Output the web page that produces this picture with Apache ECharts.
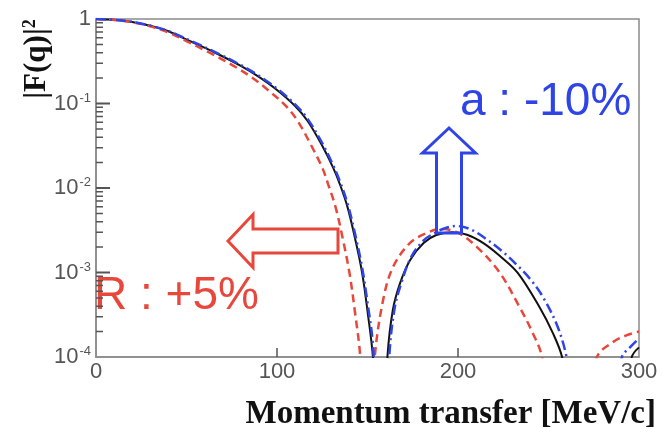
<!DOCTYPE html>
<html>
<head>
<meta charset="utf-8">
<script src="https://cdn.jsdelivr.net/npm/echarts@6/dist/echarts.min.js"></script>
<style>html,body{margin:0;padding:0;background:#fff}#c{width:663px;height:428px}</style>
</head>
<body>
<div id="c"></div>
<script>
// ---- data ----
var xTicks = [0, 100, 200, 300];
var yTicks = [1, 0.1, 0.01, 0.001, 0.0001];

// baseline (black solid)
var qBlack = [0, 10, 20, 30, 40, 52, 65, 80, 90, 100, 110, 117, 125, 131, 135, 139, 143, 147, 150, 153, 155.5, 157, 159, 161, 164, 168, 173.5, 181, 188, 197, 205, 214, 223, 233, 245, 252.5, 257.5, 262, 277, 292, 296, 300];
var fBlack = [1, 0.977, 0.923, 0.832, 0.716, 0.547, 0.407, 0.279, 0.2065, 0.1445, 0.0933, 0.0617, 0.0316, 0.0174, 0.0107, 0.0059, 0.0026, 0.001, 0.00035, 0.0001, 0.00001, 0.0000001, 0.00001, 0.0001, 0.00036, 0.00075, 0.0014, 0.00223, 0.00278, 0.0030, 0.0028, 0.00223, 0.00158, 0.00099, 0.00039, 0.00019, 0.0001, 0.000028, 0.0000001, 0.000028, 0.0001, 0.00013];

// R : +5% (red dashed)
var qRed = [0, 10, 20, 30, 40, 50, 62, 76, 86, 95, 105, 111.5, 119, 125, 128.5, 132.4, 136.2, 140, 143, 146, 148, 149.5, 151.5, 154, 158.6, 164, 173.5, 183, 190, 199.4, 210.5, 223, 234, 241.4, 246.4, 250, 262, 272, 276.8, 285.6, 293, 300];
var fRed = [1, 0.975, 0.916, 0.817, 0.692, 0.547, 0.407, 0.279, 0.204, 0.1445, 0.0933, 0.0617, 0.0316, 0.0174, 0.0107, 0.0059, 0.0026, 0.001, 0.00035, 0.0001, 0.00001, 0.0000001, 0.00001, 0.0001, 0.00047, 0.00115, 0.00224, 0.00295, 0.00327, 0.0030, 0.002, 0.001, 0.00039, 0.00019, 0.0001, 0.00002, 0.0000001, 0.00002, 0.0001, 0.00015, 0.00018, 0.0002];

// a : -10% (blue dash-dot)
var qBlue = [0, 10, 20, 30, 40, 52, 65, 80, 90, 100, 110, 117, 125, 131, 135, 139, 143, 147, 150, 153, 155.5, 158, 160.5, 162, 165, 169, 174, 181, 188, 192, 199, 207, 216, 225, 233, 240, 247, 255, 260, 266, 276, 287, 290.6, 295, 300];
var fBlue = [1, 0.977, 0.925, 0.836, 0.721, 0.555, 0.415, 0.285, 0.213, 0.15, 0.0977, 0.0653, 0.0339, 0.0186, 0.0116, 0.0065, 0.00295, 0.00115, 0.00044, 0.00014, 0.00001, 0.0000001, 0.00001, 0.0001, 0.00038, 0.00079, 0.00151, 0.0024, 0.003, 0.0033, 0.00355, 0.00324, 0.00245, 0.00174, 0.0012, 0.00083, 0.00051, 0.00023, 0.0001, 0.00002, 0.0000001, 0.00002, 0.0001, 0.00013, 0.000166];

var minorTickMantissas = [2, 3, 4, 5, 6, 7, 8, 9];
var minorTickDecades = [0.0001, 0.001, 0.01, 0.1];

// ---- build ----
var GRID = { left: 96, top: 19, right: 24, bottom: 71 };
var PW = 663 - GRID.left - GRID.right, PH = 428 - GRID.top - GRID.bottom;
var X_MIN = xTicks[0], X_MAX = xTicks[xTicks.length - 1];
var Y_MIN = yTicks[yTicks.length - 1], Y_MAX = yTicks[0];
var qPerPx = (X_MAX - X_MIN) / PW;
var decPerPx = (Math.log(Y_MAX / Y_MIN) / Math.LN10) / PH;

function zip(a, b) { return a.map(function (v, i) { return [v, b[i]]; }); }
function hTicks(vals, lenPx) {
  var out = [];
  vals.forEach(function (v) { out.push([X_MIN, v], [X_MIN + lenPx * qPerPx, v], ['-', '-']); });
  return out;
}
function vTicks(vals, lenPx) {
  var out = [];
  vals.forEach(function (v) { out.push([v, Y_MIN], [v, Y_MIN * Math.pow(10, lenPx * decPerPx)], ['-', '-']); });
  return out;
}
var minorVals = [];
minorTickDecades.forEach(function (d) { minorTickMantissas.forEach(function (m) { minorVals.push(m * d); }); });

var SANS = '"Liberation Sans", Arial, sans-serif';
var SERIF = '"Liberation Serif", "Times New Roman", serif';
var RED = '#e8473b', BLUE = '#2f44e6', AX = '#8a8a8a', TK = '#555555';

function tickSeries(data, w) {
  return { type: 'line', data: data, showSymbol: false, connectNulls: false, clip: false, silent: true, z: 8,
    lineStyle: { color: TK, width: w } };
}

var chart = echarts.init(document.getElementById('c'), null, { renderer: 'canvas' });
chart.setOption({
  animation: false,
  backgroundColor: '#fff',
  grid: { left: GRID.left, top: GRID.top, right: GRID.right, bottom: GRID.bottom, show: true, borderColor: AX, borderWidth: 1.5, backgroundColor: 'transparent' },
  xAxis: {
    type: 'value', min: X_MIN, max: X_MAX, interval: 100,
    axisLine: { show: true, lineStyle: { color: AX, width: 1.5 } },
    axisTick: { show: false },
    splitLine: { show: false },
    axisLabel: { color: '#555', fontSize: 22, fontFamily: SANS, margin: 4 }
  },
  yAxis: {
    type: 'log', logBase: 10, min: Y_MIN, max: Y_MAX, splitNumber: 4,
    axisLine: { show: true, lineStyle: { color: AX, width: 1.5 } },
    axisTick: { show: false },
    splitLine: { show: false },
    axisLabel: {
      margin: 5,
      formatter: function (v) {
        var e = Math.round(Math.log(v) / Math.LN10);
        if (e === 0) return '{b|1}';
        return '{b|10}{s|' + e + '}';
      },
      rich: {
        b: { fontSize: 22, color: '#555', fontFamily: SANS, lineHeight: 24 },
        s: { fontSize: 13, color: '#555', fontFamily: SANS, verticalAlign: 'top', lineHeight: 14, padding: [0, 0, 10, 1] }
      }
    }
  },
  series: [
    tickSeries(hTicks(minorVals, 7), 1.5),
    tickSeries(hTicks(yTicks.slice(1, 4), 14), 1.8),
    tickSeries(vTicks(xTicks.slice(1, 3), 9), 1.5),
    { type: 'line', data: zip(qBlack, fBlack), showSymbol: false, smooth: 0.35, clip: true, z: 3, lineStyle: { color: '#111', width: 2 } },
    { type: 'line', data: zip(qRed, fRed), showSymbol: false, smooth: 0.35, clip: true, z: 4, lineStyle: { color: RED, width: 2.5, type: [8, 5] } },
    { type: 'line', data: zip(qBlue, fBlue), showSymbol: false, smooth: 0.35, clip: true, z: 5, lineStyle: { color: BLUE, width: 2.5, type: [10, 4, 2, 4] } }
  ],
  graphic: [
    { type: 'text', x: 656, y: 414, style: { text: 'Momentum transfer [MeV/c]', fill: '#111', font: 'bold 33px ' + SERIF, align: 'right', verticalAlign: 'middle' } },
    { type: 'text', x: 37, y: 59, rotation: Math.PI / 2, style: { text: '{m||F(q)|}{s|2}', align: 'center', verticalAlign: 'middle',
        rich: { m: { font: 'bold 31px ' + SERIF, fill: '#111' }, s: { font: 'bold 18px ' + SERIF, fill: '#111', verticalAlign: 'top', padding: [0, 0, 14, 0] } } } },
    { type: 'text', x: 460, y: 102, style: { text: 'a : -10%', fill: BLUE, font: '46px ' + SANS, align: 'left', verticalAlign: 'middle' } },
    { type: 'text', x: 94, y: 296, style: { text: 'R : +5%', fill: RED, font: '46px ' + SANS, align: 'left', verticalAlign: 'middle' } },
    { type: 'polygon', shape: { points: [[449, 128], [475.5, 153], [461.5, 153], [461.5, 233], [436.5, 233], [436.5, 153], [422.5, 153]] }, style: { fill: 'none', stroke: BLUE, lineWidth: 3 }, z: 10 },
    { type: 'polygon', shape: { points: [[228, 241], [253, 214.5], [253, 229], [338, 229], [338, 253], [253, 253], [253, 267.5]] }, style: { fill: 'none', stroke: RED, lineWidth: 3 }, z: 10 }
  ]
});
</script>
</body>
</html>
